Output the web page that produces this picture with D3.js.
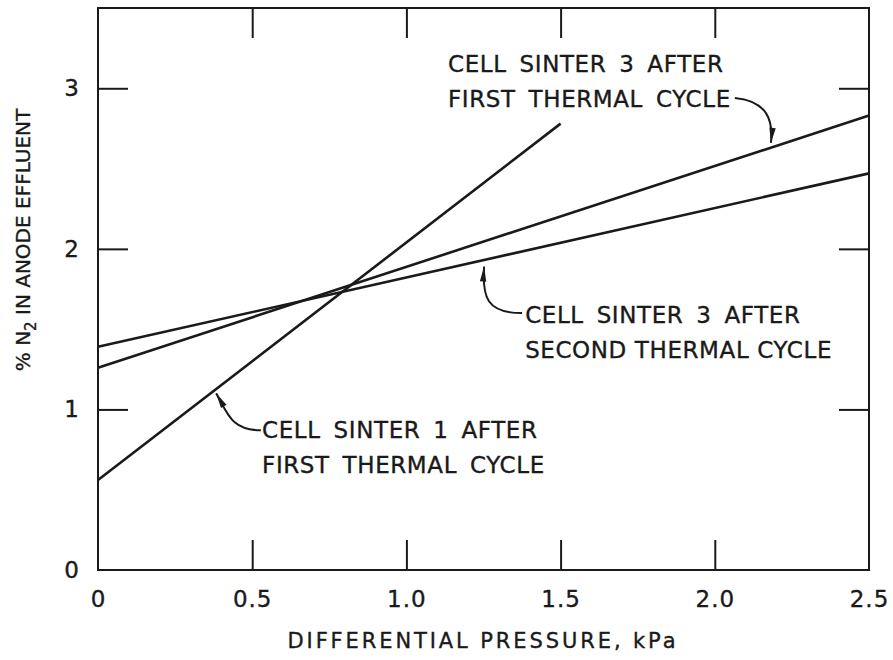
<!DOCTYPE html>
<html>
<head>
<meta charset="utf-8">
<script src="https://cdn.jsdelivr.net/npm/d3@7"></script>
<style>
  body { margin: 0; background: #fff; }
  text { font-family: "DejaVu Sans", sans-serif; fill: #1a1a1a; stroke: #1a1a1a; stroke-width: 0.35; }
</style>
</head>
<body>
<div class="canvas"></div>
<script>
// data (differential pressure kPa -> % N2)
const sinter1First = [[0, 0.56], [1.5, 2.78]]
const sinter3First = [[0, 1.26], [2.5, 2.83]]
const sinter3Second = [[0, 1.39], [2.5, 2.47]]

const xTicks = [0, 0.5, 1.0, 1.5, 2.0, 2.5]
const yTicks = [0, 1, 2, 3]

const W = 893
const H = 660
const margin = { top: 8, left: 98, bottom: 90, right: 24 }
const graphWidth = W - margin.left - margin.right
const graphHeight = H - margin.top - margin.bottom
const ink = '#1a1a1a'

const svg = d3.select('.canvas')
  .append('svg')
    .attr('width', W)
    .attr('height', H)

const graph = svg.append('g')
  .attr('transform', `translate(${margin.left}, ${margin.top})`)

const x = d3.scaleLinear().domain([0, 2.5]).range([0, graphWidth])
const y = d3.scaleLinear().domain([0, 3.5]).range([graphHeight, 0])

// frame
graph.append('rect')
  .attr('width', graphWidth)
  .attr('height', graphHeight)
  .attr('fill', 'none')
  .attr('stroke', ink)
  .attr('stroke-width', 2)

const tickLen = 30

const xAxis = d3.axisBottom(x).tickValues(xTicks).tickSize(-tickLen).tickPadding(0)
  .tickFormat(d => d === 0 ? '0' : d3.format('.1f')(d))
const yAxis = d3.axisLeft(y).tickValues(yTicks).tickSize(-tickLen).tickPadding(19)
  .tickFormat(d3.format('d'))
const xTop = d3.axisTop(x).tickValues(xTicks.slice(1, -1)).tickSize(-tickLen).tickFormat('')
const yRight = d3.axisRight(y).tickValues(yTicks.slice(1)).tickSize(-tickLen).tickFormat('')

const gx = graph.append('g').attr('transform', `translate(0, ${graphHeight})`).call(xAxis)
const gy = graph.append('g').call(yAxis)
const gt = graph.append('g').call(xTop)
const gr = graph.append('g').attr('transform', `translate(${graphWidth}, 0)`).call(yRight)

;[gx, gy, gt, gr].forEach(g => {
  g.select('.domain').remove()
  g.selectAll('line').attr('stroke', ink).attr('stroke-width', 2)
})
// drop ticks that sit on the frame corners
gx.selectAll('.tick').filter(d => d === 0 || d === 2.5).select('line').remove()
gy.selectAll('.tick').filter(d => d === 0).select('line').remove()

gx.selectAll('text')
  .attr('y', 37)
  .attr('dy', 0)
  .attr('font-size', 23)
  .attr('letter-spacing', 1)
  .attr('fill', ink)

gy.selectAll('text')
  .attr('font-size', 23)
  .attr('fill', ink)

// axis titles
svg.append('text')
  .attr('x', 483)
  .attr('y', 648)
  .attr('text-anchor', 'middle')
  .attr('font-size', 21)
  .attr('letter-spacing', 2.9)
  .text('DIFFERENTIAL PRESSURE, kPa')

const yTitle = svg.append('text')
  .attr('transform', `translate(30, 240) rotate(-90)`)
  .attr('text-anchor', 'middle')
  .attr('font-size', 20)
  .attr('letter-spacing', 0)
yTitle.append('tspan').text('% N')
yTitle.append('tspan').attr('font-size', 15).attr('dy', 6).text('2')
yTitle.append('tspan').attr('dy', -6).text(' IN ANODE EFFLUENT')

// lines
const line = d3.line().x(d => x(d[0])).y(d => y(d[1]))
;[sinter1First, sinter3First, sinter3Second].forEach(s => {
  graph.append('path')
    .attr('d', line(s))
    .attr('fill', 'none')
    .attr('stroke', ink)
    .attr('stroke-width', 2.6)
})

// annotations: text lines and curved leaders with arrowheads, in data units
const notes = [
  { lines: ['CELL SINTER 3 AFTER', 'FIRST THERMAL CYCLE'], wordGap: [5, 5], at: [1.135, 3.10],
    leader: [[2.065, 2.94], [2.17, 2.92], [2.19, 2.80], [2.182, 2.66]] },
  { lines: ['CELL SINTER 3 AFTER', 'SECOND THERMAL CYCLE'], wordGap: [5, 0], at: [1.385, 1.538],
    leader: [[1.375, 1.60], [1.26, 1.60], [1.245, 1.70], [1.252, 1.89]] },
  { lines: ['CELL SINTER 1 AFTER', 'FIRST THERMAL CYCLE'], wordGap: [5, 5], at: [0.532, 0.822],
    leader: [[0.528, 0.87], [0.43, 0.87], [0.42, 0.98], [0.383, 1.10]] }
]

notes.forEach(n => {
  const t = graph.append('text')
    .attr('x', x(n.at[0]))
    .attr('y', y(n.at[1]))
    .attr('font-size', 23)
    .attr('letter-spacing', 0.6)
  n.lines.forEach((l, i) => {
    t.append('tspan')
      .attr('x', x(n.at[0]))
      .attr('dy', i === 0 ? 0 : 34.5)
      .attr('word-spacing', n.wordGap[i])
      .text(l)
  })

  const p = n.leader.map(d => [x(d[0]), y(d[1])])
  const path = d3.path()
  path.moveTo(p[0][0], p[0][1])
  path.bezierCurveTo(p[1][0], p[1][1], p[2][0], p[2][1], p[3][0], p[3][1])
  graph.append('path')
    .attr('d', path.toString())
    .attr('fill', 'none')
    .attr('stroke', ink)
    .attr('stroke-width', 2)

  // arrowhead along the last segment
  const dx = p[3][0] - p[2][0]
  const dy = p[3][1] - p[2][1]
  const len = Math.hypot(dx, dy)
  const ux = dx / len, uy = dy / len
  const hl = 15, hw = 3.2
  const bx = p[3][0] - ux * hl, by = p[3][1] - uy * hl
  graph.append('path')
    .attr('d', `M${p[3][0]},${p[3][1]} L${bx - uy * hw},${by + ux * hw} L${bx + uy * hw},${by - ux * hw} Z`)
    .attr('fill', ink)
})
</script>
</body>
</html>
